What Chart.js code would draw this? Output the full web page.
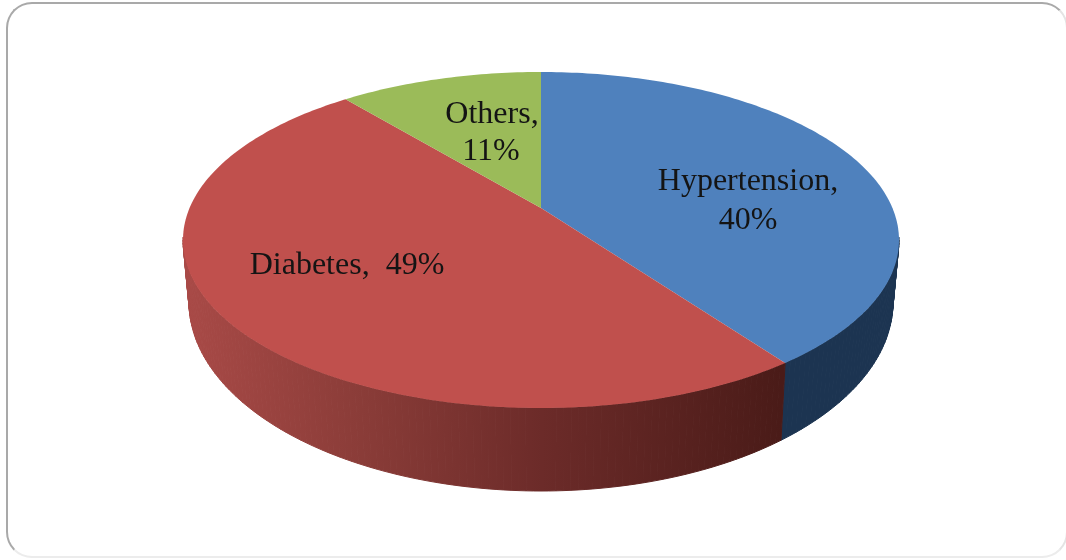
<!DOCTYPE html>
<html>
<head>
<meta charset="utf-8">
<title>Pie chart</title>
<script src="https://cdn.jsdelivr.net/npm/chart.js@4"></script>
<style>
    html, body { margin: 0; padding: 0; background: #fff; overflow: hidden; }
    #frame {
        position: absolute; left: 6px; top: 2px; width: 1062px; height: 556px;
        box-sizing: border-box; border: 2px solid #a9a9a9; border-radius: 26px;
        border-right-color: #e4e4e4; border-bottom-color: #ececec;
        filter: blur(0.5px);
    }
    #pie { position: absolute; left: 0; top: 0; filter: blur(0.5px); }
</style>
</head>
<body>
<div id="frame"></div>
<canvas id="pie" width="1066" height="560"></canvas>
<script>
const categories = ['Hypertension', 'Diabetes', 'Others'];
const values = [40, 49, 11];
const topColors = ['#4f81bd', '#c0504d', '#9bbb59'];

// Perspective of the disc: k pushes the pie centre up from the ellipse centre
const PERSPECTIVE = 0.19;
const TOP_FACE = { rx: 358, ry: 168, dy: 0 };
const BOTTOM_FACE = { rx: 352, ry: 189, dy: 62 };

// Project a canvas angle of the flat pie on to a face of the tilted disc
function project(arc, angle, face) {
    const u = Math.cos(angle), v = Math.sin(angle);
    const d = 1 - PERSPECTIVE * v;
    const a = face.rx * Math.sqrt(1 - PERSPECTIVE * PERSPECTIVE);
    return {
        x: arc.x + a * u / d,
        y: arc.y + face.dy + face.ry * (v - PERSPECTIVE) / d
    };
}

function wallStyle(ctx, index, arc) {
    if (index === 1) {
        const g = ctx.createLinearGradient(arc.x - 358, 0, arc.x + 240, 0);
        g.addColorStop(0, '#a94a47');
        g.addColorStop(0.3, '#8a3c38');
        g.addColorStop(0.6, '#6c2b29');
        g.addColorStop(1, '#4a1b18');
        return g;
    }
    return index === 0 ? '#1c3451' : '#5f7a35';
}

const tiltedPie = {
    id: 'tiltedPie',
    beforeDatasetsDraw(chart) {
        const ctx = chart.ctx;
        const arcs = chart.getDatasetMeta(0).data;
        const step = Math.PI / 180;

        // side wall first, only the part that faces the viewer
        arcs.forEach((arc, i) => {
            const style = wallStyle(ctx, i, arc);
            ctx.fillStyle = style;
            ctx.strokeStyle = style;
            ctx.lineWidth = 1;
            for (let a = arc.startAngle; a < arc.endAngle; a += step) {
                const b = Math.min(a + step, arc.endAngle);
                if (Math.sin(a) < PERSPECTIVE && Math.sin(b) < PERSPECTIVE) continue;
                const p1 = project(arc, a, TOP_FACE), p2 = project(arc, b, TOP_FACE);
                const q1 = project(arc, a, BOTTOM_FACE), q2 = project(arc, b, BOTTOM_FACE);
                ctx.beginPath();
                ctx.moveTo(p1.x, p1.y);
                ctx.lineTo(p2.x, p2.y);
                ctx.lineTo(q2.x, q2.y);
                ctx.lineTo(q1.x, q1.y);
                ctx.closePath();
                ctx.fill();
                ctx.stroke();
            }
        });

        arcs.forEach((arc, i) => {
            const apex = { x: arc.x, y: arc.y - TOP_FACE.ry * PERSPECTIVE };
            ctx.fillStyle = topColors[i];
            ctx.beginPath();
            ctx.moveTo(apex.x, apex.y);
            for (let a = arc.startAngle; a < arc.endAngle; a += step) {
                const p = project(arc, a, TOP_FACE);
                ctx.lineTo(p.x, p.y);
            }
            const end = project(arc, arc.endAngle, TOP_FACE);
            ctx.lineTo(end.x, end.y);
            ctx.closePath();
            ctx.fill();
        });

        return false; // flat arcs are replaced by the tilted ones
    },
    afterDraw(chart) {
        const ctx = chart.ctx;
        ctx.save();
        ctx.font = '32px "Liberation Serif"';
        ctx.fillStyle = '#141414';
        ctx.textAlign = 'center';
        ctx.textBaseline = 'middle';
        ctx.fillText(categories[0] + ',', 748, 182);
        ctx.fillText(values[0] + '%', 748, 221);
        ctx.fillText(categories[1] + ',  ' + values[1] + '%', 347, 266);
        ctx.fillText(categories[2] + ',', 492, 115);
        ctx.fillText(values[2] + '%', 491, 152);
        ctx.restore();
    }
};

new Chart(document.getElementById('pie'), {
    type: 'pie',
    data: {
        labels: categories,
        datasets: [{ data: values, backgroundColor: topColors, borderWidth: 0 }]
    },
    options: {
        responsive: false,
        animation: false,
        layout: { padding: { left: 16, bottom: 80 } },
        plugins: { legend: { display: false }, tooltip: { enabled: false } }
    },
    plugins: [tiltedPie]
});
</script>
</body>
</html>
